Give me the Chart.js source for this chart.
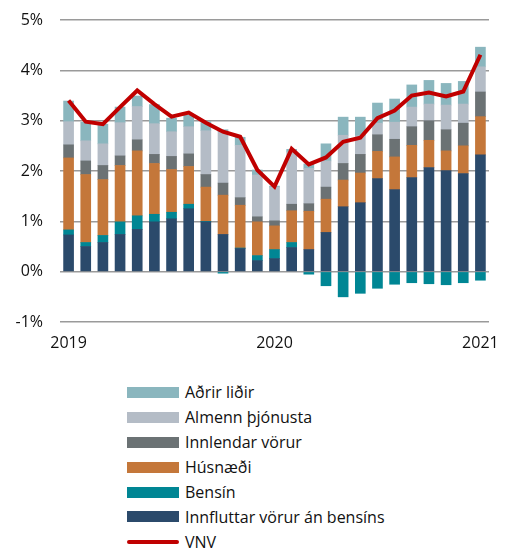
<!DOCTYPE html>
<html>
<head>
<meta charset="utf-8">
<script src="https://cdn.jsdelivr.net/npm/chart.js@4"></script>
<style>
    body { margin: 0; background: #fff; font-family: 'Open Sans', sans-serif; }
    #wrap { position: relative; width: 512px; height: 550px; }
    #chartBox { position: absolute; left: 0; top: 0; width: 512px; height: 360px; }
    #legend { position: absolute; left: 127px; top: 380px; }
    .item { display: flex; align-items: center; height: 24.9px; font-size: 16px; color: #111; }
    .swatch { width: 52px; height: 11px; margin-right: 6px; }
    .swatch.line { height: 4px; border-radius: 2px; }
</style>
</head>
<body>
<div id="wrap">
    <div id="chartBox"><canvas id="chart" width="512" height="360"></canvas></div>
    <div id="legend"></div>
</div>
<script>
// months Jan 2019 - Jan 2021
const months = [
    '2019-01', '2019-02', '2019-03', '2019-04', '2019-05', '2019-06', '2019-07', '2019-08', '2019-09', '2019-10', '2019-11', '2019-12',
    '2020-01', '2020-02', '2020-03', '2020-04', '2020-05', '2020-06', '2020-07', '2020-08', '2020-09', '2020-10', '2020-11', '2020-12',
    '2021-01'
];
const yearTicks = { '2019-01': '2019', '2020-01': '2020', '2021-01': '2021' };

const innflutt = [0.73, 0.50, 0.58, 0.74, 0.84, 0.99, 1.05, 1.25, 0.99, 0.74, 0.46, 0.22, 0.26, 0.48, 0.44, 0.78, 1.29, 1.37, 1.85, 1.63, 1.87, 2.07, 2.01, 1.95, 2.32];
const bensin = [0.10, 0.08, 0.14, 0.25, 0.27, 0.15, 0.13, 0.09, 0.01, -0.03, 0.01, 0.10, 0.18, 0.10, -0.05, -0.28, -0.50, -0.43, -0.33, -0.25, -0.22, -0.24, -0.26, -0.22, -0.17];
const husnaedi = [1.43, 1.35, 1.11, 1.12, 1.29, 1.01, 0.85, 0.75, 0.68, 0.78, 0.85, 0.67, 0.47, 0.63, 0.76, 0.66, 0.53, 0.59, 0.54, 0.65, 0.64, 0.54, 0.39, 0.55, 0.76];
const innlendar = [0.26, 0.27, 0.28, 0.19, 0.22, 0.18, 0.26, 0.25, 0.25, 0.24, 0.15, 0.10, 0.10, 0.13, 0.15, 0.24, 0.33, 0.37, 0.33, 0.35, 0.37, 0.39, 0.42, 0.45, 0.49];
const almenn = [0.46, 0.40, 0.43, 0.66, 0.66, 0.61, 0.49, 0.54, 0.87, 1.02, 1.04, 0.83, 0.67, 1.04, 0.70, 0.52, 0.56, 0.37, 0.23, 0.34, 0.39, 0.33, 0.49, 0.38, 0.50];
const adrir = [0.41, 0.37, 0.39, 0.31, 0.21, 0.38, 0.27, 0.23, 0.18, 0.04, 0.16, 0.10, 0.02, 0.05, 0.09, 0.34, 0.36, 0.37, 0.40, 0.46, 0.44, 0.47, 0.43, 0.45, 0.39];
const vnv = [3.40, 2.98, 2.93, 3.27, 3.60, 3.33, 3.08, 3.16, 2.96, 2.78, 2.68, 2.02, 1.69, 2.44, 2.13, 2.27, 2.58, 2.66, 3.05, 3.20, 3.50, 3.56, 3.48, 3.58, 4.31];

const FONT = "'Open Sans', sans-serif";

function barSet(label, data, color) {
    return {
        type: 'bar',
        label: label,
        data: data,
        backgroundColor: color,
        borderWidth: 0,
        barThickness: 10,
        stack: 'parts',
        order: 1
    };
}

const datasets = [
    barSet('Innfluttar vörur án bensíns', innflutt, '#2B4A6B'),
    barSet('Bensín', bensin, '#008694'),
    barSet('Húsnæði', husnaedi, '#C4773A'),
    barSet('Innlendar vörur', innlendar, '#6B7274'),
    barSet('Almenn þjónusta', almenn, '#B4BCC6'),
    barSet('Aðrir liðir', adrir, '#8AB6BE'),
    {
        type: 'line',
        label: 'VNV',
        data: vnv,
        borderColor: '#C00000',
        borderWidth: 4,
        pointRadius: 0,
        tension: 0,
        fill: false,
        stack: 'vnv',
        order: 0
    }
];

const chart = new Chart(document.getElementById('chart'), {
    data: { labels: months, datasets: datasets },
    options: {
        responsive: false,
        animation: false,
        layout: { padding: { left: 0, right: 23, top: 20, bottom: 0 } },
        plugins: { legend: { display: false }, tooltip: { enabled: false } },
        scales: {
            x: {
                stacked: true,
                offset: true,
                grid: { display: false },
                border: { display: false },
                afterFit: (axis) => { axis.height = 38; },
                ticks: {
                    autoSkip: false,
                    maxRotation: 0,
                    padding: 4,
                    color: '#111',
                    font: { family: FONT, size: 16 },
                    callback: function (value) {
                        return yearTicks[this.getLabelForValue(value)] || '';
                    }
                }
            },
            y: {
                stacked: true,
                min: -1,
                max: 5,
                // tick padding would otherwise push the plot down
                afterFit: (axis) => {
                    axis.width = 60;
                    axis.paddingTop = 10;
                    axis.paddingBottom = 10;
                },
                grid: { color: '#9A9A9A', lineWidth: 1.5, drawTicks: false },
                border: { display: false },
                ticks: {
                    stepSize: 1,
                    padding: 17,
                    color: '#111',
                    font: { family: FONT, size: 16 },
                    callback: (value) => value + '%'
                }
            }
        }
    }
});

// legend, top of stack first, VNV last
const legendOrder = [5, 4, 3, 2, 1, 0, 6];
const legendEl = document.getElementById('legend');
legendOrder.forEach(i => {
    const ds = chart.data.datasets[i];
    const row = document.createElement('div');
    row.className = 'item';
    const sw = document.createElement('span');
    sw.className = ds.type === 'line' ? 'swatch line' : 'swatch';
    sw.style.background = ds.type === 'line' ? ds.borderColor : ds.backgroundColor;
    const txt = document.createElement('span');
    txt.textContent = ds.label;
    row.appendChild(sw);
    row.appendChild(txt);
    legendEl.appendChild(row);
});
</script>
</body>
</html>
